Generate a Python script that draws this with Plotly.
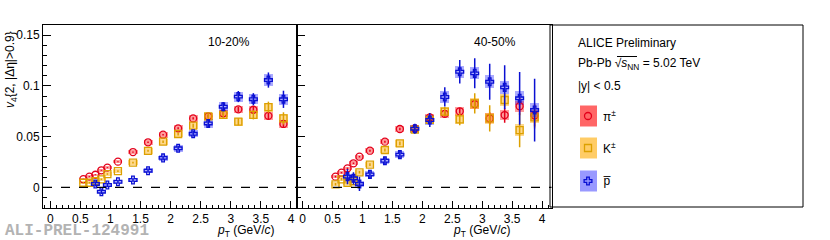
import plotly.graph_objects as go

W, H = 830, 240

# ---------------- data ----------------
pt_all = [0.55, 0.65, 0.75, 0.85, 0.95, 1.125, 1.375, 1.625, 1.875, 2.125,
          2.375, 2.625, 2.875, 3.125, 3.375, 3.625, 3.875]
pt_pbar = pt_all[2:]

# 10-20%
pi_1020 = [0.008, 0.0105, 0.0124, 0.0168, 0.0194, 0.0253, 0.0348, 0.0444, 0.0519, 0.0582,
           0.0680, 0.0700, 0.0730, 0.0769, 0.0765, 0.0705, 0.0625]
pi_1020_stat = [0.0005, 0.0005, 0.0005, 0.0005, 0.0005, 0.0005, 0.0006, 0.0007, 0.0008, 0.001,
                0.0012, 0.0015, 0.002, 0.0025, 0.003, 0.0035, 0.004]
pi_1020_sys = [0.0012, 0.0012, 0.0012, 0.0014, 0.0015, 0.0018, 0.0022, 0.0025, 0.0028, 0.003,
               0.0032, 0.0033, 0.0034, 0.0035, 0.0036, 0.0037, 0.0038]
k_1020 = [0.0045, 0.0045, 0.006, 0.0079, 0.0131, 0.016, 0.0243, 0.036, 0.045, 0.0526,
          0.0608, 0.0700, 0.0715, 0.0647, 0.0715, 0.0790, 0.0680]
k_1020_stat = [0.0008, 0.0008, 0.0008, 0.0008, 0.0008, 0.0008, 0.0009, 0.001, 0.0012, 0.0015,
               0.002, 0.0025, 0.003, 0.0035, 0.0045, 0.0055, 0.006]
k_1020_sys = [0.0015, 0.0015, 0.0015, 0.0016, 0.0018, 0.002, 0.0025, 0.0028, 0.003, 0.0032,
              0.0035, 0.0037, 0.0038, 0.004, 0.0042, 0.0044, 0.0045]
p_1020 = [0.0033, -0.0043, 0.0023, 0.0055, 0.0072, 0.0164, 0.029, 0.0385, 0.0528, 0.0630,
          0.0795, 0.0895, 0.0869, 0.1058, 0.0868]
p_1020_stat = [0.0025, 0.0025, 0.0022, 0.0018, 0.0018, 0.0018, 0.002, 0.0022, 0.0028, 0.0035,
               0.0045, 0.0055, 0.006, 0.0075, 0.0085]
p_1020_sys = [0.0015, 0.0015, 0.0015, 0.0018, 0.002, 0.0025, 0.003, 0.0032, 0.0035, 0.004,
              0.0045, 0.005, 0.005, 0.0055, 0.0055]

# 40-50%
pi_4050 = [0.0105, 0.0144, 0.0187, 0.0237, 0.0302, 0.0361, 0.0450, 0.0575, 0.0580, 0.0690,
           0.0725, 0.0750, 0.0820, 0.0680, 0.0713, 0.0800, 0.0710]
pi_4050_stat = [0.0008, 0.0008, 0.0008, 0.0008, 0.0008, 0.0009, 0.001, 0.0012, 0.0015, 0.002,
                0.0028, 0.0035, 0.0045, 0.006, 0.0075, 0.009, 0.011]
pi_4050_sys = [0.0015, 0.0015, 0.0016, 0.0018, 0.002, 0.0022, 0.0025, 0.003, 0.0032, 0.0035,
               0.004, 0.0045, 0.0048, 0.005, 0.0052, 0.0055, 0.0055]
k_4050 = [0.003, 0.0079, 0.0045, 0.006, 0.0148, 0.0224, 0.0368, 0.0434, 0.0570, 0.0665,
          0.0746, 0.0671, 0.0828, 0.0680, 0.0861, 0.0565, 0.0690]
k_4050_stat = [0.0012, 0.0012, 0.0012, 0.0012, 0.0012, 0.0013, 0.0015, 0.0018, 0.0025, 0.003,
               0.0045, 0.006, 0.010, 0.013, 0.007, 0.017, 0.011]
k_4050_sys = [0.002, 0.002, 0.002, 0.002, 0.0022, 0.0025, 0.003, 0.0032, 0.0035, 0.004,
              0.0045, 0.005, 0.0052, 0.0055, 0.0058, 0.006, 0.006]
p_4050 = [0.0105, 0.0089, 0.0033, 0.0128, 0.0262, 0.0322, 0.0578, 0.0664, 0.0891, 0.1140,
          0.1124, 0.1041, 0.0986, 0.0878, 0.0762]
p_4050_stat = [0.0075, 0.006, 0.007, 0.004, 0.004, 0.004, 0.005, 0.007, 0.0095, 0.0115,
               0.0148, 0.0178, 0.0217, 0.026, 0.031]
p_4050_sys = [0.003, 0.003, 0.003, 0.003, 0.0032, 0.0035, 0.004, 0.0045, 0.0055, 0.006,
              0.006, 0.0062, 0.0065, 0.0068, 0.007]

panel_labels = ["10-20%", "40-50%"]
species_labels = ["π<sup>±</sup>", "K<sup>±</sup>", "p\u0305"]

# ---------------- style ----------------
FONT = "Liberation Sans, Arial, sans-serif"
RED, RED_BOX, RED_LEG = "#e3001b", "rgba(255,0,0,0.38)", "rgba(255,0,0,0.6)"
YEL, YEL_BOX, YEL_LEG = "#dca000", "rgba(255,170,0,0.45)", "rgba(255,170,0,0.6)"
BLU, BLU_BOX, BLU_LEG = "#0a10d2", "rgba(0,0,255,0.33)", "rgba(0,0,255,0.4)"
BOXW = 0.15

fig = go.Figure()

def add_species(x, y, stat, sys, color, boxcol, symbol, size, xa, ya):
    fig.add_trace(go.Bar(x=x, y=[2 * s for s in sys], base=[v - s for v, s in zip(y, sys)],
                         width=BOXW, marker=dict(color=boxcol, line=dict(width=0)),
                         xaxis=xa, yaxis=ya, showlegend=False, hoverinfo="skip"))
    fig.add_trace(go.Scatter(x=x, y=y, mode="markers",
                             error_y=dict(type="data", array=stat, color=color, thickness=1.5, width=0),
                             marker=dict(symbol=symbol, size=size, color=color,
                                         line=dict(color=color, width=1.3)),
                             xaxis=xa, yaxis=ya, showlegend=False))

for xa, ya, pi, pis, pisy, k, ks, ksy, p, ps, psy in [
        ("x", "y", pi_1020, pi_1020_stat, pi_1020_sys, k_1020, k_1020_stat, k_1020_sys,
         p_1020, p_1020_stat, p_1020_sys),
        ("x2", "y2", pi_4050, pi_4050_stat, pi_4050_sys, k_4050, k_4050_stat, k_4050_sys,
         p_4050, p_4050_stat, p_4050_sys)]:
    add_species(pt_all, pi, pis, pisy, RED, RED_BOX, "circle-open", 7, xa, ya)
    add_species(pt_all, k, ks, ksy, YEL, YEL_BOX, "square-open", 7, xa, ya)
    add_species(pt_pbar, p, ps, psy, BLU, BLU_BOX, "cross-open", 6.5, xa, ya)

# legend markers on an auxiliary pixel-space axis
leg_y = [116, 148, 181]
for yy, col, sym, sz in zip(leg_y, [RED, YEL, BLU], ["circle-open", "square-open", "cross-open"], [7, 7, 6.5]):
    fig.add_trace(go.Scatter(x=[588], y=[yy], mode="markers", xaxis="x3", yaxis="y3",
                             marker=dict(symbol=sym, size=sz, color=col, line=dict(color=col, width=1.3)),
                             showlegend=False, hoverinfo="skip"))

def fx(px): return px / W
def fy(py): return 1 - py / H

x_left = (43, 297)
x_right = (297, 551.5)
y_top, y_bot = 25, 208

ax_common = dict(showline=True, linecolor="black", linewidth=1, mirror=True, ticks="inside",
                 showgrid=False, zeroline=False, tickcolor="black",
                 tickfont=dict(family=FONT, size=12, color="black"))
xax = dict(ax_common, dtick=0.5, tick0=0, ticklen=7, tickwidth=1,
           minor=dict(ticks="inside", dtick=0.1, ticklen=3.5, tickcolor="black", showgrid=False))
yax = dict(ax_common, dtick=0.05, tick0=0, ticklen=8, tickwidth=1,
           minor=dict(ticks="inside", dtick=0.01, ticklen=4, tickcolor="black", showgrid=False))

yr = [-0.0204, 0.1601]
fig.update_layout(
    width=W, height=H, margin=dict(l=0, r=0, t=0, b=0),
    paper_bgcolor="white", plot_bgcolor="rgba(0,0,0,0)", barmode="overlay", bargap=0,
    showlegend=False,
    xaxis=dict(xax, domain=[fx(x_left[0]), fx(x_left[1])], range=[-0.12, 4.1], anchor="y"),
    yaxis=dict(yax, domain=[fy(y_bot), fy(y_top)], range=yr, anchor="x"),
    xaxis2=dict(xax, domain=[fx(x_right[0]), fx(x_right[1])], range=[-0.093, 4.157], anchor="y2"),
    yaxis2=dict(yax, domain=[fy(y_bot), fy(y_top)], range=yr, anchor="x2", showticklabels=False),
    xaxis3=dict(domain=[fx(550), fx(803)], range=[550, 803], visible=False, anchor="y3", fixedrange=True),
    yaxis3=dict(domain=[fy(207), fy(25)], range=[207, 25], visible=False, anchor="x3", fixedrange=True),
)

shapes = []
for xr, yr_ in [("x domain", "y"), ("x2 domain", "y2")]:
    shapes.append(dict(type="line", xref=xr, yref=yr_, x0=0, x1=1, y0=0, y1=0,
                       line=dict(color="black", width=1.2, dash="dash")))
shapes.append(dict(type="rect", xref="paper", yref="paper", x0=fx(550), x1=fx(803),
                   y0=fy(207), y1=fy(25), line=dict(color="black", width=1), fillcolor="rgba(0,0,0,0)"))
for yy, c in zip(leg_y, [RED_LEG, YEL_LEG, BLU_LEG]):
    shapes.append(dict(type="rect", xref="paper", yref="paper", x0=fx(580), x1=fx(597),
                       y0=fy(yy + 10.5), y1=fy(yy - 10.5), line=dict(width=0), fillcolor=c, layer="below"))
shapes.append(dict(type="line", xref="paper", yref="paper", x0=fx(617), x1=fx(637),
                   y0=fy(56.5), y1=fy(56.5), line=dict(color="black", width=1)))
fig.update_layout(shapes=shapes)

ann = []
def text(x, y, s, size=12, xanchor="left", yanchor="middle", **kw):
    ann.append(dict(x=fx(x), y=fy(y), xref="paper", yref="paper", text=s, showarrow=False,
                    xanchor=xanchor, yanchor=yanchor,
                    font=dict(family=kw.pop("family", FONT), size=size, color=kw.pop("color", "black")), **kw))

text(229, 42, panel_labels[0], 12, xanchor="center")
text(495, 42, panel_labels[1], 12, xanchor="center")
text(576, 43, "ALICE Preliminary", 12)
text(576, 64, "Pb-Pb √<i>s</i><sub>NN</sub> = 5.02 TeV", 12)
text(576, 86, "|y| &lt; 0.5", 12)
for yy, s in zip(leg_y, species_labels):
    text(601, yy, s, 12)
text(277, 231, "<i>p</i><sub>T</sub> (GeV/<i>c</i>)", 12, xanchor="right")
text(513, 231, "<i>p</i><sub>T</sub> (GeV/<i>c</i>)", 12, xanchor="right")
text(11, 70, "<i>v</i><sub>4</sub>{2, |Δη|&gt;0.9}", 12, xanchor="center", textangle=-90)
text(3, 231, "ALI-PREL-124991", 16, family="Liberation Mono, Courier New, monospace",
     color="#b3b3b3")
ann[-1]["font"]["weight"] = "bold"
fig.update_layout(annotations=ann)

fig.write_html("out.html", config={"displayModeBar": False},
               post_script="document.body.style.margin='0px';document.body.style.overflow='hidden';")
